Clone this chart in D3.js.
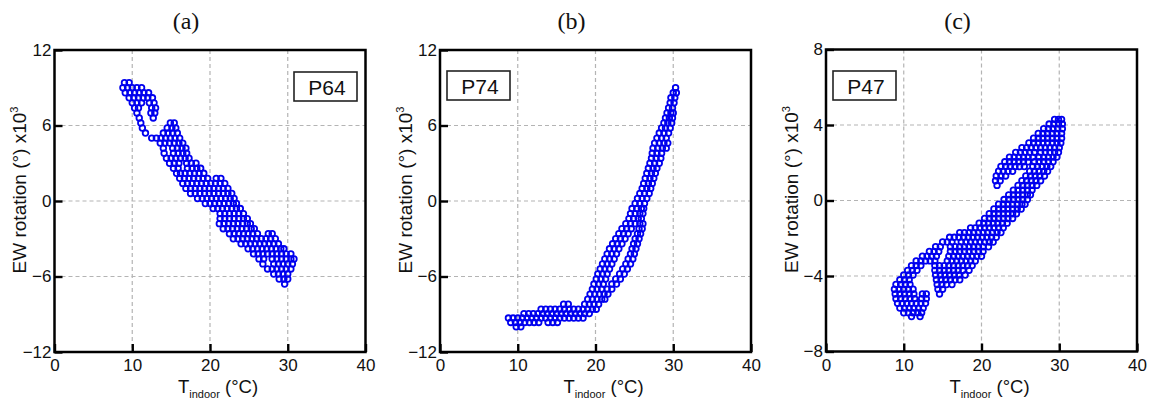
<!DOCTYPE html>
<html>
<head>
<meta charset="utf-8">
<script src="https://cdn.jsdelivr.net/npm/d3@7"></script>
<style>
  html, body { margin: 0; padding: 0; background: #fff; }
  svg { display: block; }
  text { font-family: "Liberation Sans", Arial, sans-serif; fill: #111; }
</style>
</head>
<body>
<svg id="chart" width="1151" height="403"></svg>
<script>
// ---------- data ----------
const xTicks = [0, 10, 20, 30, 40];
const yTicksAB = [-12, -6, 0, 6, 12];
const yTicksC = [-8, -4, 0, 4, 8];
const panelLetters = ["(a)", "(b)", "(c)"];
const sensorNames = ["P64", "P74", "P47"];

// each row: [EW rotation (x10^3 deg), T_indoor values ...]
const p64Rows = [
  [9.4, 9.0, 9.6],
  [9.0, 8.8, 9.4, 10.0, 10.6, 11.2],
  [8.6, 9.1, 9.7, 10.3, 10.9, 11.5, 12.1],
  [8.2, 9.6, 10.2, 10.8, 11.4, 12.0, 12.6],
  [7.8, 10.0, 10.6, 11.2, 12.2, 12.8],
  [7.4, 10.3, 10.8, 12.5, 13.0],
  [7.0, 10.6, 12.4, 12.9],
  [6.6, 10.9, 12.7],
  [6.2, 11.1, 14.9, 15.4],
  [5.8, 11.3, 14.5, 15.1, 15.6],
  [5.4, 11.7, 14.0, 14.6, 15.2, 15.8],
  [5.0, 12.5, 13.1, 13.7, 14.3, 14.9, 15.5, 16.1],
  [4.6, 13.6, 14.2, 14.8, 15.4, 16.0, 16.5],
  [4.2, 14.0, 15.2, 15.8, 16.4, 16.9],
  [3.8, 14.1, 15.3, 15.9, 16.5, 17.0],
  [3.4, 14.4, 15.0, 15.6, 16.2, 16.8, 17.3],
  [3.0, 14.8, 15.4, 16.0, 17.0, 17.6, 18.2],
  [2.6, 15.3, 15.9, 17.1, 17.7, 18.3, 18.8],
  [2.2, 15.7, 16.2, 16.8, 17.4, 18.0, 18.6, 19.2],
  [1.8, 16.1, 16.7, 17.3, 17.9, 18.5, 19.1, 19.7, 20.8, 21.4],
  [1.4, 16.5, 17.1, 17.7, 18.3, 18.9, 19.5, 20.1, 20.7, 21.3, 21.9],
  [1.0, 16.9, 17.5, 18.1, 18.7, 19.3, 19.9, 20.5, 21.1, 21.7, 22.3],
  [0.6, 17.5, 18.1, 18.7, 19.3, 19.9, 20.5, 21.1, 21.7, 22.3, 22.8],
  [0.2, 18.4, 19.0, 19.6, 20.2, 20.8, 21.4, 22.0, 22.6, 23.1],
  [-0.2, 19.4, 20.0, 20.6, 21.2, 21.8, 22.4, 23.0, 23.4],
  [-0.6, 20.4, 21.0, 21.6, 22.2, 22.8, 23.4, 23.9],
  [-1.0, 21.3, 21.9, 22.5, 23.1, 23.7, 24.3],
  [-1.4, 21.3, 21.9, 22.5, 23.1, 23.7, 24.3, 24.8],
  [-1.8, 21.2, 21.8, 22.4, 23.0, 23.6, 24.2, 24.8, 25.2],
  [-2.2, 21.7, 22.3, 22.9, 23.5, 24.1, 24.7, 25.3, 25.7],
  [-2.6, 22.5, 23.1, 23.7, 24.3, 24.9, 25.5, 26.1, 27.5, 28.0],
  [-3.0, 23.0, 23.6, 24.2, 24.8, 25.4, 26.0, 26.6, 27.2, 27.8, 28.4],
  [-3.4, 24.0, 24.6, 25.2, 25.8, 26.4, 27.0, 27.6, 28.2, 28.8],
  [-3.8, 24.9, 25.5, 26.1, 26.7, 27.3, 27.9, 28.5, 29.1, 29.5],
  [-4.2, 25.6, 26.2, 26.8, 27.4, 28.0, 28.6, 29.2, 29.8, 30.4],
  [-4.6, 26.3, 26.9, 28.0, 28.6, 29.2, 29.8, 30.4, 30.8],
  [-5.0, 26.8, 28.2, 28.8, 29.4, 30.0, 30.6],
  [-5.4, 27.4, 28.0, 28.6, 29.2, 29.8, 30.4],
  [-5.8, 28.2, 28.8, 29.4, 30.0],
  [-6.2, 28.9, 29.5, 30.0],
  [-6.6, 29.6]
];

const p74Rows = [
  [9.0, 30.3],
  [8.6, 30.0, 30.4],
  [8.2, 29.7, 30.2],
  [7.8, 29.6, 30.1],
  [7.4, 29.4, 29.9],
  [7.0, 29.2, 29.7, 30.0],
  [6.6, 29.0, 29.5, 29.9],
  [6.2, 28.8, 29.3, 29.8],
  [5.8, 28.5, 29.0, 29.6],
  [5.4, 28.2, 28.8, 29.4],
  [5.0, 27.9, 28.5, 29.1],
  [4.6, 27.6, 28.2, 28.8, 29.3],
  [4.2, 27.4, 28.0, 28.6, 29.1],
  [3.8, 27.3, 27.9, 28.5],
  [3.4, 27.2, 27.8, 28.4],
  [3.0, 27.0, 27.6, 28.2],
  [2.6, 26.8, 27.4, 27.9],
  [2.2, 26.6, 27.2, 27.7],
  [1.8, 26.4, 27.0, 27.5],
  [1.4, 26.2, 26.8, 27.3],
  [1.0, 26.0, 26.6, 27.1],
  [0.6, 25.7, 26.3, 26.9],
  [0.2, 25.4, 26.0, 26.6],
  [-0.2, 25.1, 25.7, 26.3],
  [-0.6, 24.7, 25.3, 25.9, 26.2],
  [-1.0, 24.5, 25.1, 25.7, 26.1],
  [-1.4, 24.3, 24.9, 25.5, 25.9],
  [-1.8, 23.9, 24.5, 25.1, 25.7, 26.1],
  [-2.2, 23.4, 24.0, 24.6, 25.6, 26.0],
  [-2.6, 23.0, 23.6, 24.2, 25.4, 25.8],
  [-3.0, 22.6, 23.2, 23.8, 25.1, 25.6],
  [-3.4, 22.2, 22.8, 23.4, 24.9, 25.4],
  [-3.8, 21.8, 22.4, 23.0, 24.7, 25.2],
  [-4.2, 21.5, 22.1, 22.7, 24.5, 25.0],
  [-4.6, 21.2, 21.8, 22.4, 24.2, 24.8],
  [-5.0, 20.9, 21.5, 22.1, 23.9, 24.5],
  [-5.4, 20.6, 21.2, 21.8, 23.5, 24.1],
  [-5.8, 20.3, 20.9, 21.5, 23.1, 23.7],
  [-6.2, 20.1, 20.7, 21.3, 22.6, 23.2],
  [-6.6, 19.8, 20.4, 21.0, 22.1, 22.7],
  [-7.0, 19.6, 20.2, 20.8, 21.5, 22.1],
  [-7.4, 19.3, 19.9, 20.5, 21.1, 21.6],
  [-7.8, 19.0, 19.6, 20.2, 20.8, 21.2],
  [-8.2, 15.9, 16.5, 18.6, 19.2, 19.8, 20.4],
  [-8.6, 13.0, 13.6, 14.2, 14.8, 15.4, 16.0, 16.6, 17.2, 17.8, 18.4, 19.0, 19.6, 20.1],
  [-8.95, 10.8, 11.4, 12.0, 12.6, 13.2, 13.8, 14.4, 15.0, 15.6, 16.2, 16.8, 17.4, 18.0, 18.6, 19.2],
  [-9.3, 8.8, 9.4, 10.0, 10.6, 11.2, 11.8, 12.4, 13.0, 13.6, 14.2, 14.8, 15.4, 16.0, 16.6, 17.2, 17.8, 18.4],
  [-9.65, 9.1, 9.7, 10.3, 10.9, 11.5, 12.1, 12.7, 13.9, 14.5, 15.1],
  [-10.0, 9.8, 10.4]
];

const p47Rows = [
  [4.3, 29.4, 29.9, 30.3],
  [4.05, 28.7, 29.3, 29.9, 30.4],
  [3.8, 28.0, 28.6, 29.2, 29.8, 30.4],
  [3.55, 27.3, 27.9, 28.5, 29.1, 29.7, 30.3],
  [3.3, 26.7, 27.3, 27.9, 28.5, 29.1, 29.7, 30.3],
  [3.05, 26.1, 26.7, 27.3, 27.9, 28.5, 29.1, 29.7, 30.2],
  [2.8, 25.2, 25.8, 26.4, 27.0, 27.6, 28.2, 28.8, 29.4, 30.0],
  [2.55, 24.4, 25.0, 25.6, 26.2, 26.8, 27.6, 28.2, 28.8, 29.4, 29.9],
  [2.3, 23.6, 24.2, 24.8, 25.4, 26.0, 26.6, 27.4, 28.0, 28.6, 29.2, 29.7],
  [2.05, 23.0, 23.6, 24.2, 24.8, 25.4, 26.0, 26.8, 27.4, 28.0, 28.6, 29.2],
  [1.8, 22.5, 23.1, 23.7, 24.3, 24.9, 25.5, 26.6, 27.2, 27.8, 28.4, 28.9],
  [1.55, 22.2, 22.8, 23.4, 24.0, 26.2, 26.8, 27.4, 28.0, 28.5],
  [1.3, 21.9, 22.5, 23.1, 25.7, 26.3, 26.9, 27.5, 28.1],
  [1.05, 21.8, 22.4, 25.2, 25.8, 26.4, 27.0, 27.6],
  [0.8, 22.0, 24.7, 25.3, 25.9, 26.5, 27.1],
  [0.55, 24.1, 24.7, 25.3, 25.9, 26.5],
  [0.3, 23.5, 24.1, 24.7, 25.3, 25.9, 26.3],
  [0.05, 22.9, 23.5, 24.1, 24.7, 25.3, 25.9],
  [-0.2, 22.2, 22.8, 23.4, 24.0, 24.6, 25.2, 25.6],
  [-0.45, 21.6, 22.2, 22.8, 23.4, 24.0, 24.6, 25.1],
  [-0.7, 21.0, 21.6, 22.2, 22.8, 23.4, 24.0, 24.5],
  [-0.95, 20.4, 21.0, 21.6, 22.2, 22.8, 23.4, 24.0],
  [-1.2, 19.7, 20.3, 20.9, 21.5, 22.1, 22.7, 23.3],
  [-1.45, 18.6, 19.2, 19.8, 20.4, 21.0, 21.6, 22.2, 22.8],
  [-1.7, 17.2, 17.8, 18.4, 19.0, 19.6, 20.2, 20.8, 21.4, 22.0, 22.5],
  [-1.95, 15.9, 16.5, 17.1, 17.7, 18.3, 18.9, 19.5, 20.1, 20.7, 21.3, 21.9],
  [-2.2, 15.0, 15.6, 16.2, 17.4, 18.0, 18.6, 19.2, 19.8, 20.4, 21.0, 21.5],
  [-2.45, 14.1, 14.7, 16.0, 16.6, 17.2, 17.8, 18.4, 19.0, 19.6, 20.2, 20.9],
  [-2.7, 13.3, 13.9, 14.5, 16.0, 16.6, 17.2, 17.8, 18.4, 19.0, 19.6, 20.2],
  [-2.95, 12.4, 13.0, 13.6, 14.2, 15.8, 16.4, 17.0, 17.6, 18.2, 18.8, 19.4, 20.0],
  [-3.2, 11.6, 12.2, 12.8, 13.4, 14.0, 15.6, 16.2, 16.8, 17.4, 18.0, 18.6, 19.2],
  [-3.45, 11.0, 11.6, 12.2, 14.0, 14.6, 15.2, 15.8, 16.4, 17.0, 17.6, 18.2, 18.8],
  [-3.7, 10.5, 11.1, 11.7, 14.0, 14.6, 15.2, 15.8, 16.4, 17.0, 17.6, 18.4],
  [-3.95, 10.0, 10.6, 11.2, 14.1, 14.7, 15.3, 15.9, 16.5, 17.1, 17.9],
  [-4.2, 9.5, 10.1, 10.7, 14.2, 14.8, 15.4, 16.0, 16.6, 17.2],
  [-4.45, 9.0, 9.6, 10.2, 10.8, 14.3, 14.9, 15.5, 16.2],
  [-4.7, 8.8, 9.4, 10.0, 10.6, 11.2, 14.4, 15.0],
  [-4.95, 8.9, 9.5, 10.1, 10.7, 11.3, 12.4, 12.9, 14.6],
  [-5.2, 9.0, 9.6, 10.2, 10.8, 11.4, 12.3, 12.9],
  [-5.45, 9.2, 9.8, 10.4, 11.0, 11.6, 12.2, 12.8],
  [-5.7, 9.5, 10.1, 10.7, 11.3, 11.9, 12.5],
  [-5.95, 10.0, 10.6, 11.2, 11.8, 12.3],
  [-6.15, 11.0, 12.1]
];

// ---------- layout ----------
const panels = [
  { rows: p64Rows, yTicks: yTicksAB, left: 54.5, top: 50, legend: { x: 294, y: 72 } },
  { rows: p74Rows, yTicks: yTicksAB, left: 440, top: 50, legend: { x: 447, y: 71 } },
  { rows: p47Rows, yTicks: yTicksC, left: 826, top: 49.5, legend: { x: 833, y: 71 } }
];
const W = 311, H = 302;

const svg = d3.select("#chart");
svg.append("rect").attr("width", 1151).attr("height", 403).attr("fill", "#fff");

panels.forEach((p, i) => {
  const x = d3.scaleLinear().domain([xTicks[0], xTicks[xTicks.length - 1]]).range([p.left, p.left + W]);
  const y = d3.scaleLinear().domain([p.yTicks[0], p.yTicks[p.yTicks.length - 1]]).range([p.top + H, p.top]);
  const g = svg.append("g");

  // grid
  g.append("g").selectAll("line").data(xTicks.slice(1, -1)).join("line")
    .attr("x1", d => x(d)).attr("x2", d => x(d))
    .attr("y1", p.top).attr("y2", p.top + H)
    .attr("stroke", "#b4b4b4").attr("stroke-width", 1.2).attr("stroke-dasharray", "4,3");
  g.append("g").selectAll("line").data(p.yTicks.slice(1, -1)).join("line")
    .attr("y1", d => y(d)).attr("y2", d => y(d))
    .attr("x1", p.left).attr("x2", p.left + W)
    .attr("stroke", "#b4b4b4").attr("stroke-width", 1.2).attr("stroke-dasharray", "4,3");

  // points
  const pts = [];
  p.rows.forEach(r => { for (let k = 1; k < r.length; k++) pts.push([r[k], r[0]]); });
  g.append("g").selectAll("circle").data(pts).join("circle")
    .attr("cx", d => x(d[0])).attr("cy", d => y(d[1])).attr("r", 2.8)
    .attr("fill", "none").attr("stroke", "#0000ee").attr("stroke-width", 1.8);

  // axes
  const ax = g.append("g").attr("transform", `translate(0,${p.top + H})`)
    .call(d3.axisBottom(x).tickValues(xTicks).tickSize(-8).tickSizeOuter(0).tickPadding(7).tickFormat(d3.format("d")));
  const ay = g.append("g").attr("transform", `translate(${p.left},0)`)
    .call(d3.axisLeft(y).tickValues(p.yTicks).tickSize(-8).tickSizeOuter(0).tickPadding(3).tickFormat(d3.format("d")));
  [ax, ay].forEach(a => {
    a.select(".domain").remove();
    a.selectAll(".tick line").attr("stroke", "#000").attr("stroke-width", 2.4);
    a.selectAll(".tick text").attr("font-size", 17).attr("fill", "#111")
      .attr("font-family", "'Liberation Sans', Arial, sans-serif");
  });

  // frame
  g.append("rect").attr("x", p.left).attr("y", p.top).attr("width", W).attr("height", H)
    .attr("fill", "none").attr("stroke", "#000").attr("stroke-width", 2.5);

  // legend box
  g.append("rect").attr("x", p.legend.x).attr("y", p.legend.y).attr("width", 63).attr("height", 29)
    .attr("fill", "#fff").attr("stroke", "#222").attr("stroke-width", 1.6);
  g.append("text").attr("x", p.legend.x + 33).attr("y", p.legend.y + 23)
    .attr("text-anchor", "middle").attr("font-size", 21).text(sensorNames[i]);

  // panel letter
  g.append("text").attr("x", p.left + W / 2 - 24).attr("y", 29)
    .attr("text-anchor", "middle").attr("font-size", 24)
    .style("font-family", "'Liberation Serif', 'Times New Roman', serif").text(panelLetters[i]);

  // x label
  const xl = g.append("text").attr("x", p.left + W / 2 + 8).attr("y", 393)
    .attr("text-anchor", "middle").attr("font-size", 18.5);
  xl.append("tspan").text("T");
  xl.append("tspan").attr("font-size", 11).attr("dy", 5).text("indoor");
  xl.append("tspan").attr("dy", -5).text(" (°C)");

  // y label
  const yl = g.append("text")
    .attr("transform", `translate(${p.left - 28.5},${p.top + H / 2 - 11}) rotate(-90)`)
    .attr("text-anchor", "middle").attr("font-size", 19);
  yl.append("tspan").text("EW rotation (°) x10");
  yl.append("tspan").attr("font-size", 11).attr("dy", -8).text("3");
});
</script>
</body>
</html>
